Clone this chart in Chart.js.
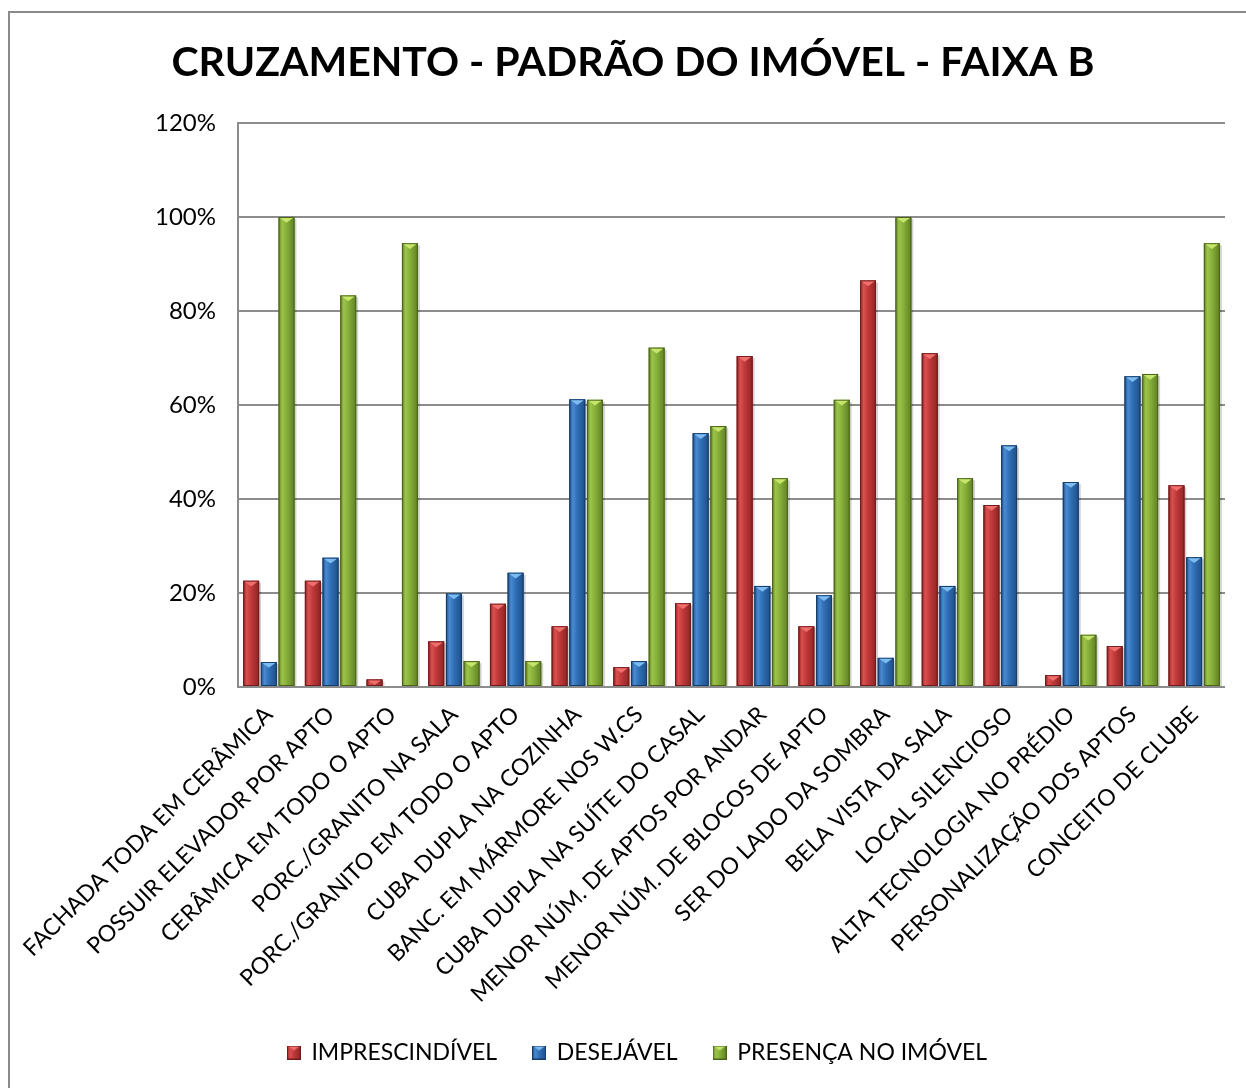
<!DOCTYPE html>
<html>
<head>
<meta charset="utf-8">
<script src="https://cdn.jsdelivr.net/npm/chart.js@4.4.1/dist/chart.umd.min.js"></script>
<style>
  html, body { margin: 0; padding: 0; background: #ffffff; }
  #wrap { position: relative; width: 1246px; height: 1088px; }
</style>
</head>
<body>
<div id="wrap"><canvas id="c" width="1246" height="1088"></canvas></div>
<script>
// Categories and series (percent values)
const categories = [
  'FACHADA TODA EM CERÂMICA',
  'POSSUIR ELEVADOR POR APTO',
  'CERÂMICA EM TODO O APTO',
  'PORC./GRANITO NA SALA',
  'PORC./GRANITO EM TODO O APTO',
  'CUBA DUPLA NA COZINHA',
  'BANC. EM MÁRMORE NOS W.CS',
  'CUBA DUPLA NA SUÍTE DO CASAL',
  'MENOR NÚM. DE APTOS POR ANDAR',
  'MENOR NÚM. DE BLOCOS DE APTO',
  'SER DO LADO DA SOMBRA',
  'BELA VISTA DA SALA',
  'LOCAL SILENCIOSO',
  'ALTA TECNOLOGIA NO PRÉDIO',
  'PERSONALIZAÇÃO DOS APTOS',
  'CONCEITO DE CLUBE'
];
const imprescindivel = [22.6, 22.6, 1.6, 9.7, 17.7, 12.9, 4.2, 17.8, 70.4, 12.9, 86.5, 71.0, 38.7, 2.5, 8.7, 42.9];
const desejavel      = [5.3, 27.5, 0, 19.9, 24.3, 61.2, 5.5, 54.0, 21.5, 19.5, 6.2, 21.5, 51.4, 43.6, 66.1, 27.6];
const presenca       = [100, 83.3, 94.4, 5.5, 5.5, 61.1, 72.2, 55.5, 44.4, 61.1, 100, 44.4, 0, 11.1, 66.6, 94.4];
const seriesNames    = ['IMPRESCINDÍVEL', 'DESEJÁVEL', 'PRESENÇA NO IMÓVEL'];
const yTickValues    = [0, 20, 40, 60, 80, 100, 120];
const chartTitle     = 'CRUZAMENTO - PADRÃO DO IMÓVEL - FAIXA B';

// Shading for the bevelled bars
const palettes = [
  { main: '#c0393a', light: '#d9504f', dark: '#8e2424', edge: '#6e1b1b', cap: '#ef6f6c' },
  { main: '#2f6fb6', light: '#4a8ad0', dark: '#1f4f88', edge: '#173c68', cap: '#7cbcf0' },
  { main: '#87b03a', light: '#9cc44a', dark: '#607f25', edge: '#4a621b', cap: '#c6e56a' }
];

function drawBevel(ctx, l, top, w, h, pal) {
  const r = l + w, cx = l + w / 2;
  const g = ctx.createLinearGradient(l, 0, r, 0);
  g.addColorStop(0, pal.dark);
  g.addColorStop(0.22, pal.light);
  g.addColorStop(0.5, pal.main);
  g.addColorStop(1, pal.dark);
  ctx.fillStyle = g;
  ctx.fillRect(l, top, w, h);
  ctx.strokeStyle = pal.edge;
  ctx.lineWidth = 1;
  ctx.strokeRect(l + 0.5, top + 0.5, w - 1, h - 1);
  const d = Math.min(w * 0.36, h - 1);
  if (d > 1) {
    ctx.fillStyle = pal.cap;
    ctx.beginPath();
    ctx.moveTo(l + 1.5, top + 1);
    ctx.lineTo(r - 1.5, top + 1);
    ctx.lineTo(cx, top + d);
    ctx.closePath();
    ctx.fill();
  }
}

// Small bevelled swatches for the legend
function swatch(pal) {
  const cv = document.createElement('canvas');
  cv.width = 14; cv.height = 14;
  drawBevel(cv.getContext('2d'), 0, 0, 14, 14, pal);
  return cv;
}

const bevelBars = {
  id: 'bevelBars',
  beforeDatasetsDraw(chart) {
    const ctx = chart.ctx;
    ctx.save();
    ctx.fillStyle = 'rgba(0,0,0,0.16)';
    ctx.shadowColor = 'rgba(0,0,0,0.25)';
    ctx.shadowBlur = 3;
    chart.data.datasets.forEach((ds, i) => {
      const meta = chart.getDatasetMeta(i);
      meta.data.forEach(bar => {
        const { x, y, base, width } = bar.getProps(['x', 'y', 'base', 'width'], true);
        const h = base - y;
        if (h < 0.5) return;
        ctx.fillRect(x - width / 2 + 2, y + 2, width, h - 2);
      });
    });
    ctx.restore();
  },
  afterDatasetsDraw(chart) {
    const ctx = chart.ctx;
    ctx.save();
    chart.data.datasets.forEach((ds, i) => {
      const meta = chart.getDatasetMeta(i);
      if (meta.hidden) return;
      meta.data.forEach(bar => {
        const { x, y, base, width } = bar.getProps(['x', 'y', 'base', 'width'], true);
        const h = base - y;
        if (h < 0.5) return;
        drawBevel(ctx, x - width / 2, y, width, h, palettes[i]);
      });
    });
    ctx.restore();
  }
};

// Frame line along the top and left edges, plus the heading
const frame = {
  id: 'frame',
  beforeDraw(chart) {
    const ctx = chart.ctx;
    ctx.save();
    ctx.strokeStyle = '#8a8a8a';
    ctx.lineWidth = 2;
    ctx.beginPath();
    ctx.moveTo(9, chart.height + 5);
    ctx.lineTo(9, 12);
    ctx.lineTo(chart.width + 5, 12);
    ctx.stroke();
    ctx.restore();
  },
  afterDraw(chart) {
    const ctx = chart.ctx;
    ctx.save();
    ctx.fillStyle = '#000000';
    ctx.font = 'bold 41px Lato';
    ctx.textAlign = 'center';
    ctx.textBaseline = 'middle';
    ctx.fillText(chartTitle, 633, 63);
    ctx.restore();
  }
};

const seriesValues = [imprescindivel, desejavel, presenca];

new Chart(document.getElementById('c'), {
  type: 'bar',
  data: {
    labels: categories,
    datasets: seriesValues.map((vals, i) => ({
      label: seriesNames[i],
      data: vals,
      backgroundColor: palettes[i].main,
      borderWidth: 0,
      pointStyle: swatch(palettes[i]),
      categoryPercentage: 0.86,
      barPercentage: 0.9
    }))
  },
  options: {
    responsive: false,
    animation: false,
    events: [],
    layout: { padding: { left: 50, right: 21, top: 123, bottom: 14 } },
    plugins: {
      title: { display: false },
      legend: {
        position: 'bottom',
        labels: {
          usePointStyle: true,
          pointStyleWidth: 12,
          boxHeight: 14,
          padding: 36,
          color: '#000000',
          font: { family: 'Lato', size: 23 }
        }
      },
      tooltip: { enabled: false }
    },
    scales: {
      x: {
        grid: { display: false },
        border: { display: false },
        ticks: {
          color: '#000000',
          font: { family: 'Lato', size: 23 },
          maxRotation: 45,
          minRotation: 45,
          autoSkip: false,
          padding: 6
        },
        afterFit(scale) { scale.height = 318; }
      },
      y: {
        min: 0,
        max: 120,
        afterBuildTicks(scale) { scale.ticks = yTickValues.map(v => ({ value: v })); },
        grid: { color: '#8c8c8c', lineWidth: 2, drawTicks: false },
        border: { display: true, color: '#8c8c8c', width: 2 },
        ticks: {
          color: '#000000',
          font: { family: 'Lato', size: 24 },
          padding: 22,
          callback: v => v + '%'
        },
        afterFit(scale) { scale.width = 188; }
      }
    }
  },
  plugins: [frame, bevelBars]
});
</script>
</body>
</html>
